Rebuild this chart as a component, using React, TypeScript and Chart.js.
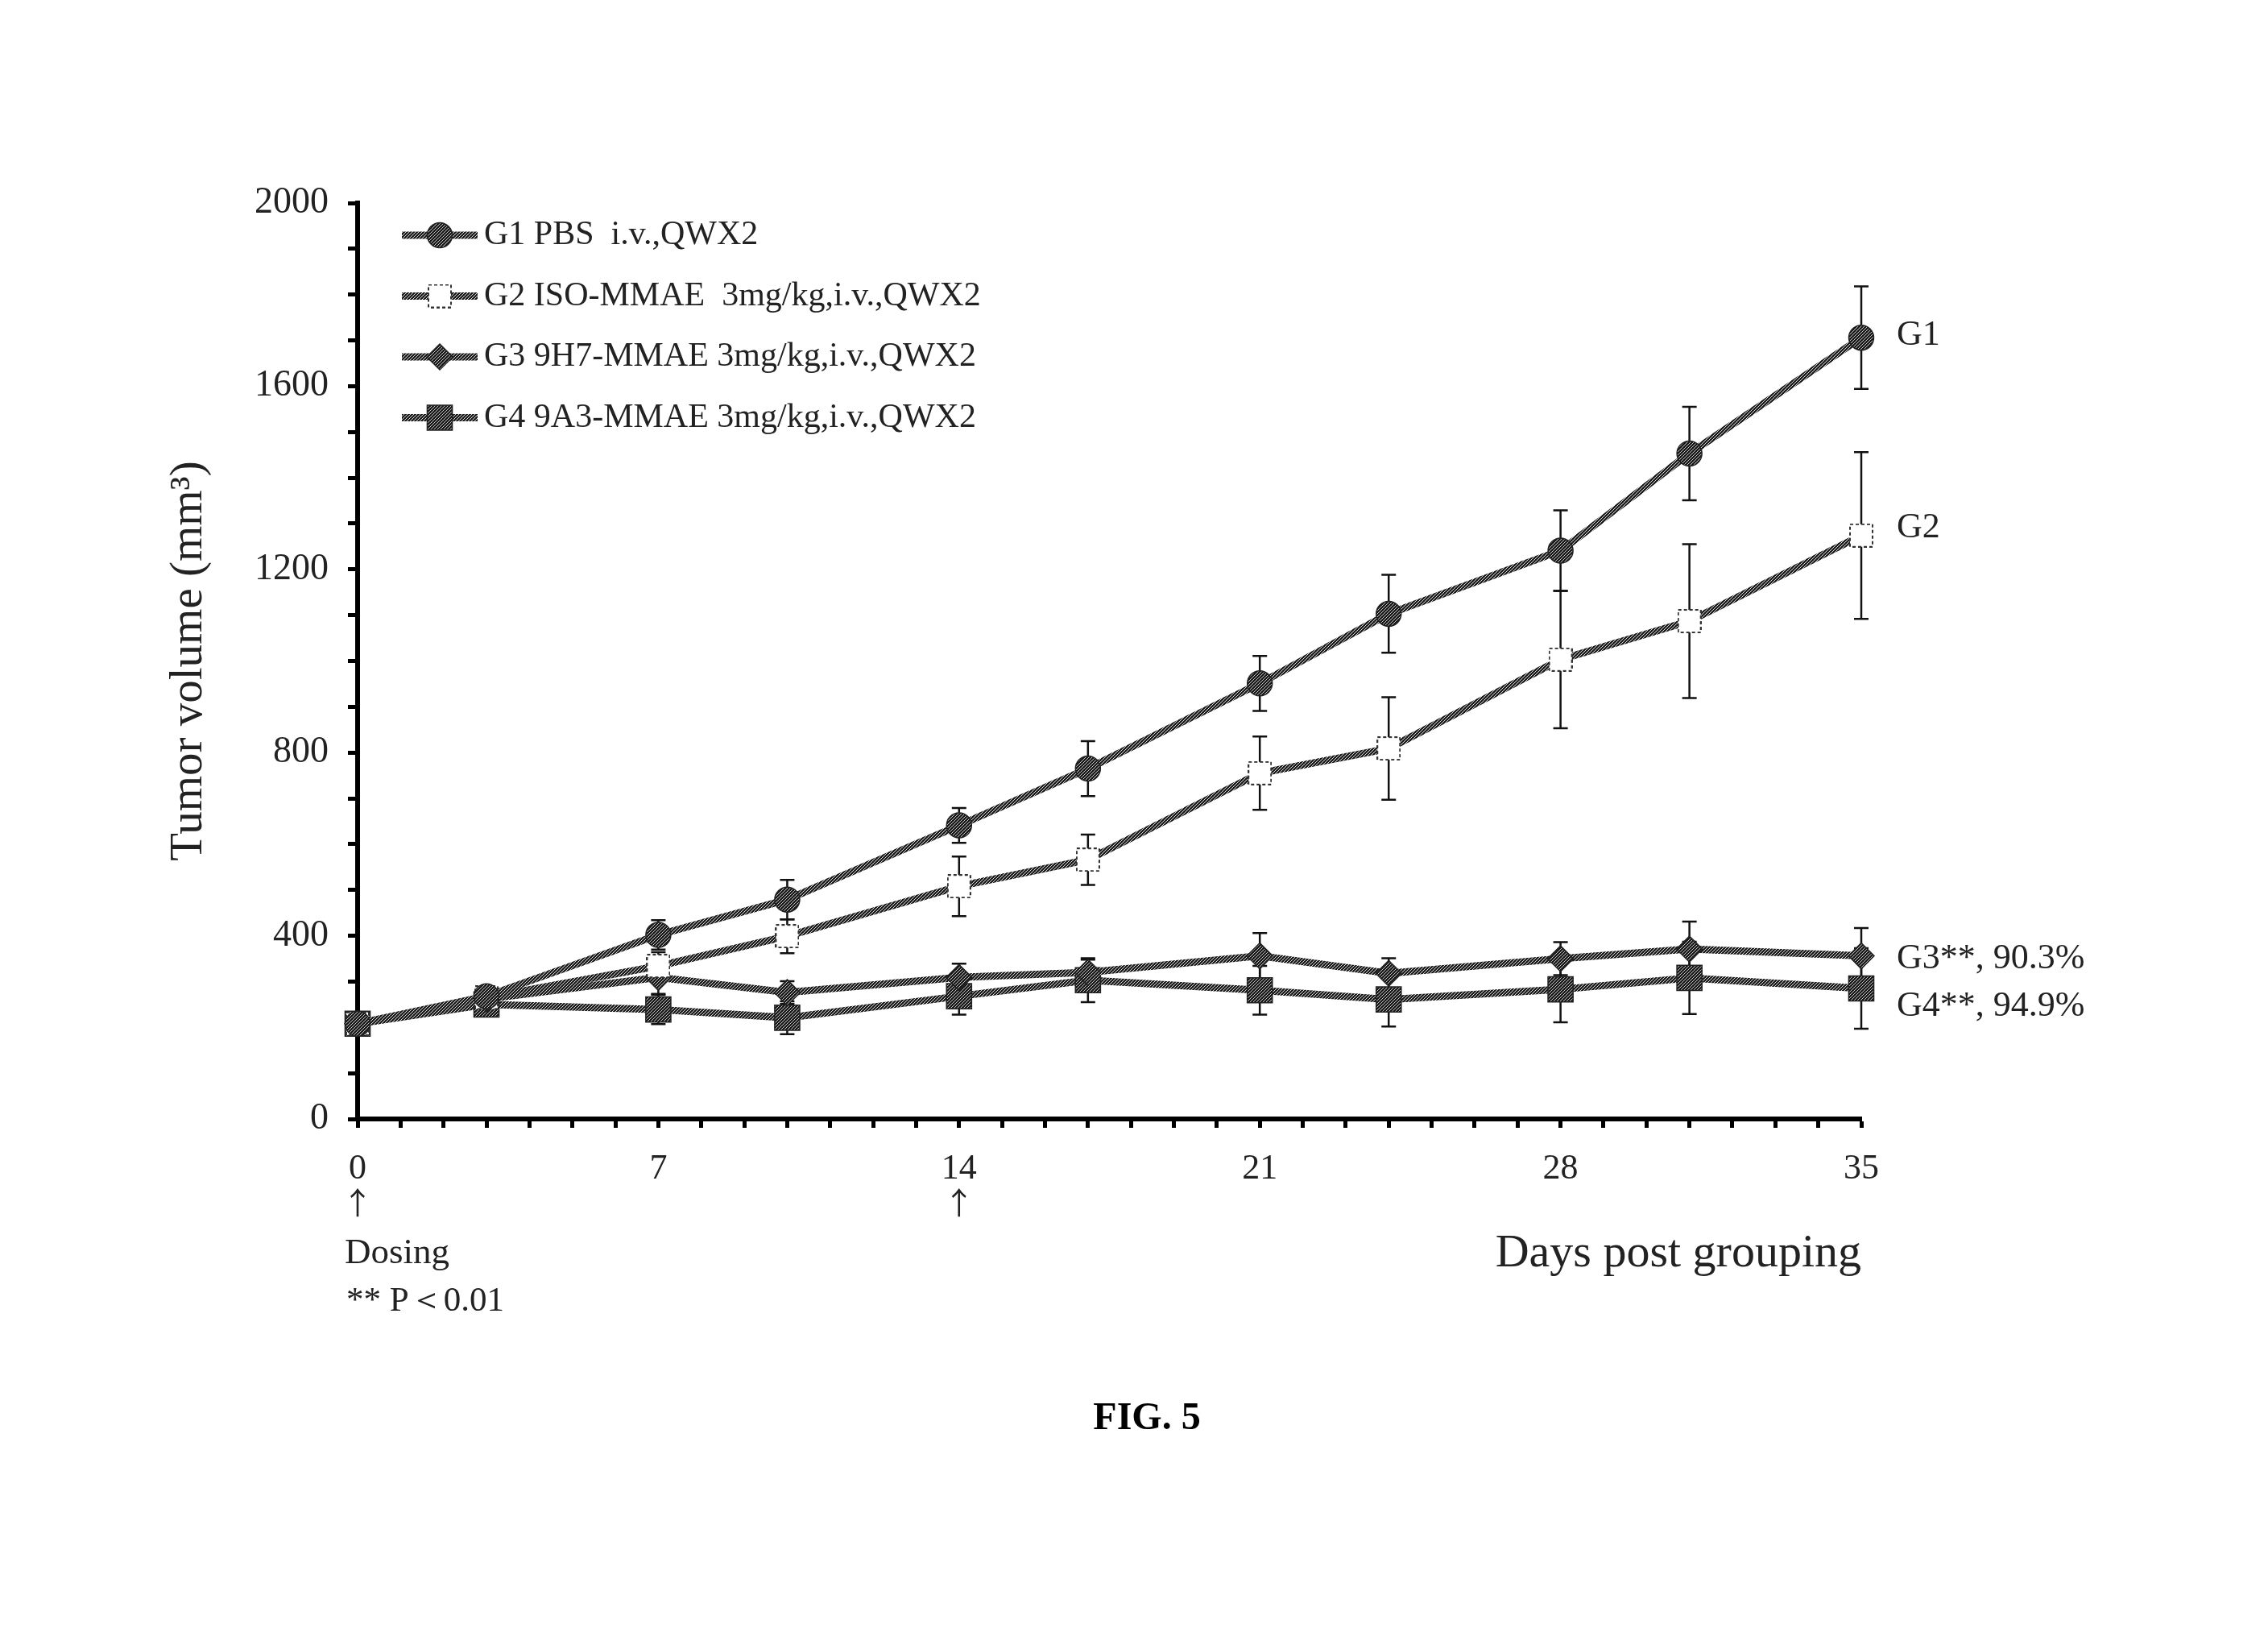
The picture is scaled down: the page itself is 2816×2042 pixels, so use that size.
import React, { useEffect, useRef } from 'react';
import { Chart, registerables } from 'chart.js';
import { drawPoint } from 'chart.js/helpers';

Chart.register(...registerables);

// ---------------- data ----------------
const days = [0, 3, 7, 10, 14, 17, 21, 24, 28, 31, 35];

const seriesLabels = [
  'G1 PBS  i.v.,QWX2',
  'G2 ISO-MMAE  3mg/kg,i.v.,QWX2',
  'G3 9H7-MMAE 3mg/kg,i.v.,QWX2',
  'G4 9A3-MMAE 3mg/kg,i.v.,QWX2',
];

const g1 = [208, 268, 402, 479, 641, 765, 951, 1103, 1241, 1453, 1706];
const g1Err = [15, 20, 32, 43, 38, 60, 60, 85, 88, 102, 112];

const g2 = [208, 265, 334, 399, 508, 566, 755, 809, 1003, 1087, 1274];
const g2Err = [15, 20, 30, 37, 65, 55, 80, 112, 150, 168, 182];

const g3 = [208, 262, 309, 276, 309, 320, 356, 318, 350, 371, 356];
const g3Err = [15, 20, 36, 25, 30, 28, 50, 33, 36, 60, 61];

const g4 = [208, 250, 239, 221, 268, 303, 281, 261, 283, 308, 285];
const g4Err = [15, 20, 32, 36, 40, 48, 53, 59, 72, 79, 88];

const endLabels = ['G1', 'G2', 'G3**, 90.3%', 'G4**, 94.9%'];
const endLabelValues = [1710, 1290, 350, 245];

const yTickLabels = [0, 400, 800, 1200, 1600, 2000];
const xTickLabels = [0, 7, 14, 21, 28, 35];
const dosingDays = [0, 14];

const yTitle = 'Tumor volume (mm\u00B3)';
const xTitle = 'Days post grouping';
const dosingText = 'Dosing';
const pText = '** P\uFF1C0.01';
const figText = 'FIG. 5';

const SERIF = '"Liberation Serif", "Times New Roman", "DejaVu Serif", serif';

function hatch(dark: string, light: string) {
  const c = document.createElement('canvas');
  c.width = 4;
  c.height = 4;
  const g = c.getContext('2d')!;
  g.fillStyle = dark;
  g.fillRect(0, 0, 4, 4);
  g.fillStyle = light;
  for (let i = 0; i < 4; i++) g.fillRect(i, 3 - i, 1, 1);
  return g.createPattern(c, 'repeat')!;
}

function dashedSquare(size: number) {
  const c = document.createElement('canvas');
  c.width = size;
  c.height = size;
  const g = c.getContext('2d')!;
  g.fillStyle = '#fff';
  g.fillRect(1, 1, size - 2, size - 2);
  g.strokeStyle = '#333';
  g.lineWidth = 2;
  g.setLineDash([4, 3]);
  g.strokeRect(1, 1, size - 2, size - 2);
  return c;
}

export default function App() {
  const ref = useRef<HTMLCanvasElement | null>(null);

  useEffect(() => {
    const canvas = ref.current!;
    const linePat = hatch('#1e1e1e', '#dcdcdc');
    const markPat = hatch('#1a1a1a', '#c8c8c8');
    const sq = dashedSquare(30);

    const values = [g1, g2, g3, g4];
    const errors = [g1Err, g2Err, g3Err, g4Err];
    const styles: any[] = [
      { pointStyle: 'circle', pointRadius: 15.5 },
      { pointStyle: sq, pointRadius: 15 },
      { pointStyle: 'rectRot', pointRadius: 16 },
      { pointStyle: 'rect', pointRadius: 22 },
    ];

    const datasets = values.map((vals, i) => ({
      label: seriesLabels[i],
      data: days.map((d, j) => ({ x: d, y: vals[j] })),
      borderColor: linePat,
      borderWidth: 9,
      backgroundColor: markPat,
      pointBackgroundColor: markPat,
      pointBorderColor: '#222',
      pointBorderWidth: 1.5,
      pointStyle: styles[i].pointStyle,
      pointRadius: styles[i].pointRadius,
      pointHoverRadius: styles[i].pointRadius,
      tension: 0,
      clip: false as any,
    }));

    const errorBars = {
      id: 'errorBars',
      beforeDatasetsDraw(chart: any) {
        const { ctx } = chart;
        const x = chart.scales.x;
        const y = chart.scales.y;
        ctx.save();
        ctx.strokeStyle = '#111';
        ctx.lineWidth = 2.5;
        chart.data.datasets.forEach((ds: any, i: number) => {
          ds.data.forEach((p: any, j: number) => {
            const e = errors[i][j];
            const px = x.getPixelForValue(p.x);
            const top = y.getPixelForValue(p.y + e);
            const bot = y.getPixelForValue(p.y - e);
            ctx.beginPath();
            ctx.moveTo(px, top);
            ctx.lineTo(px, bot);
            ctx.moveTo(px - 9, top);
            ctx.lineTo(px + 9, top);
            ctx.moveTo(px - 9, bot);
            ctx.lineTo(px + 9, bot);
            ctx.stroke();
          });
        });
        ctx.restore();
      },
    };

    const annotations = {
      id: 'annotations',
      afterDraw(chart: any) {
        const { ctx } = chart;
        const x = chart.scales.x;
        const y = chart.scales.y;
        ctx.save();

        // legend (inside plot, top-left)
        const legendY0 = 292;
        const legendStep = 75.5;
        chart.data.datasets.forEach((ds: any, i: number) => {
          const ly = legendY0 + i * legendStep;
          ctx.strokeStyle = ds.borderColor;
          ctx.lineWidth = ds.borderWidth;
          ctx.beginPath();
          ctx.moveTo(499, ly);
          ctx.lineTo(593, ly);
          ctx.stroke();
          ctx.fillStyle = ds.pointBackgroundColor;
          ctx.strokeStyle = ds.pointBorderColor;
          ctx.lineWidth = ds.pointBorderWidth;
          drawPoint(ctx, { pointStyle: ds.pointStyle, rotation: 0, radius: ds.pointRadius, borderWidth: ds.pointBorderWidth } as any, 546, ly);
          ctx.fillStyle = '#222';
          ctx.font = `42px ${SERIF}`;
          ctx.textAlign = 'left';
          ctx.textBaseline = 'middle';
          ctx.fillText(ds.label, 601, ly);
        });

        // end labels
        ctx.fillStyle = '#222';
        ctx.font = `44px ${SERIF}`;
        ctx.textAlign = 'left';
        ctx.textBaseline = 'middle';
        const xr = x.getPixelForValue(days[days.length - 1]) + 44;
        endLabels.forEach((t, i) => {
          ctx.fillText(t, xr, y.getPixelForValue(endLabelValues[i]));
        });

        // dosing arrows
        ctx.textAlign = 'center';
        ctx.textBaseline = 'middle';
        ctx.font = '38px "Noto Sans CJK SC", "DejaVu Sans", sans-serif';
        dosingDays.forEach((d) => {
          ctx.fillText('\u2191', x.getPixelForValue(d), 1493);
        });

        // Dosing + p-value
        ctx.textAlign = 'left';
        ctx.textBaseline = 'alphabetic';
        ctx.font = `45px ${SERIF}`;
        ctx.fillText(dosingText, 428, 1568);
        ctx.font = `43px ${SERIF}`;
        ctx.fillText(pText, 430, 1627);

        // figure caption
        ctx.fillStyle = '#000';
        ctx.font = `bold 48px ${SERIF}`;
        ctx.textAlign = 'center';
        ctx.fillText(figText, 1424, 1774);

        ctx.restore();
      },
    };

    const chart = new Chart(canvas, {
      type: 'line',
      data: { datasets: datasets as any },
      options: {
        responsive: false,
        maintainAspectRatio: false,
        devicePixelRatio: 1,
        animation: false,
        events: [],
        layout: { padding: { left: 0, top: 252, right: 505, bottom: 0 } },
        plugins: {
          legend: { display: false },
          tooltip: { enabled: false },
        },
        scales: {
          x: {
            type: 'linear',
            min: 0,
            max: 35,
            afterFit: (s: any) => {
              s.height = 653;
            },
            grid: {
              drawOnChartArea: false,
              drawTicks: true,
              tickLength: 11,
              tickWidth: 5,
              tickColor: '#000',
            },
            border: { display: true, width: 6, color: '#000' },
            ticks: {
              stepSize: 1,
              autoSkip: false,
              maxRotation: 0,
              padding: 25,
              color: '#222',
              font: { family: SERIF, size: 44 },
              callback: (v: any) => (xTickLabels.includes(Number(v)) ? String(v) : ''),
            },
            title: {
              display: true,
              text: xTitle,
              align: 'end',
              color: '#222',
              font: { family: SERIF, size: 58 },
              padding: { top: 0, bottom: 450 },
            },
          },
          y: {
            type: 'linear',
            min: 0,
            max: 2000,
            afterFit: (s: any) => {
              s.width = 444;
            },
            grid: {
              drawOnChartArea: false,
              drawTicks: true,
              tickLength: 12,
              tickWidth: 5,
              tickColor: '#000',
            },
            border: { display: true, width: 6, color: '#000' },
            ticks: {
              stepSize: 100,
              autoSkip: false,
              padding: 24,
              color: '#222',
              font: { family: SERIF, size: 46 },
              callback: (v: any) => (yTickLabels.includes(Number(v)) ? String(v) : ''),
            },
            title: {
              display: true,
              text: yTitle,
              color: '#222',
              font: { family: SERIF, size: 57 },
              padding: { top: 201, bottom: 0 },
            },
          },
        },
      },
      plugins: [errorBars, annotations],
    });

    return () => chart.destroy();
  }, []);

  return (
    <div style={{ position: 'absolute', left: 0, top: 0, width: 2816, height: 2042, background: '#fff' }}>
      <canvas ref={ref} width={2816} height={2042} style={{ display: 'block', width: 2816, height: 2042 }} />
    </div>
  );
}
